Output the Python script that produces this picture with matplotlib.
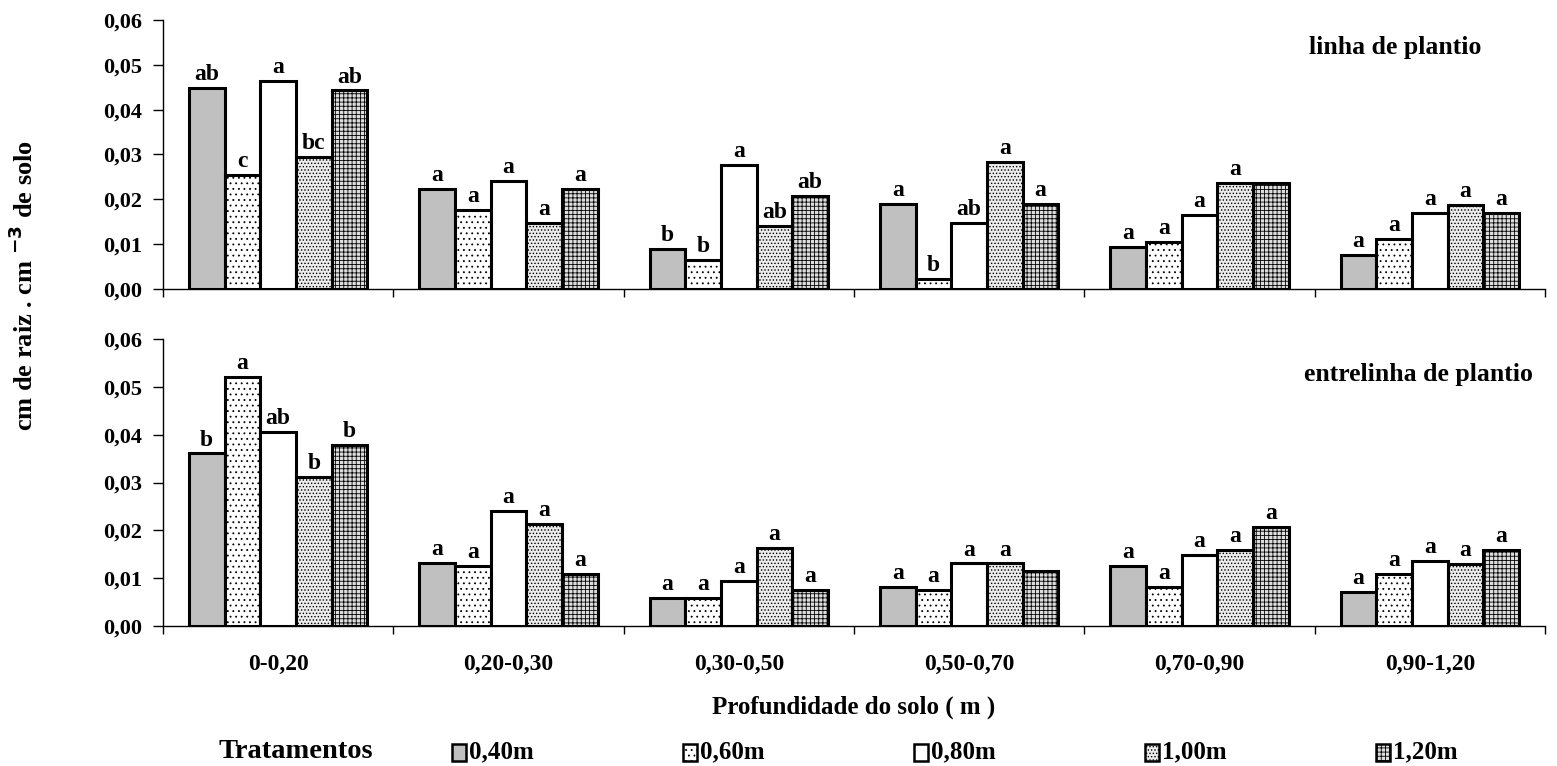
import matplotlib
matplotlib.use("Agg")
import matplotlib.pyplot as plt
from matplotlib.patches import Rectangle
from matplotlib.ticker import FuncFormatter
import numpy as np

plt.rcParams['font.family'] = ['Liberation Serif', 'DejaVu Serif']
plt.rcParams['font.weight'] = 'bold'
plt.rcParams['mathtext.default'] = 'bf'
plt.rcParams['hatch.linewidth'] = 0.6

# depth classes (x axis)
profundidades = ['0-0,20', '0,20-0,30', '0,30-0,50', '0,50-0,70', '0,70-0,90', '0,90-1,20']
tratamentos = ['0,40m', '0,60m', '0,80m', '1,00m', '1,20m']

# linha de plantio: one list per treatment, values per depth
linha_040 = [0.0449, 0.0224, 0.0089, 0.0189, 0.0094, 0.0076]
linha_060 = [0.0255, 0.0176, 0.0065, 0.0023, 0.0105, 0.0112]
linha_080 = [0.0465, 0.0241, 0.0277, 0.0147, 0.0165, 0.0170]
linha_100 = [0.0295, 0.0147, 0.0141, 0.0283, 0.0237, 0.0188]
linha_120 = [0.0443, 0.0224, 0.0207, 0.0189, 0.0237, 0.0170]

# entrelinha de plantio
entre_040 = [0.0361, 0.0132, 0.0059, 0.0082, 0.0126, 0.0071]
entre_060 = [0.0521, 0.0126, 0.0059, 0.0076, 0.0081, 0.0109]
entre_080 = [0.0405, 0.0241, 0.0094, 0.0131, 0.0148, 0.0136]
entre_100 = [0.0312, 0.0213, 0.0164, 0.0131, 0.0159, 0.0130]
entre_120 = [0.0378, 0.0109, 0.0076, 0.0114, 0.0207, 0.0159]

# significance letters (per treatment, per depth)
linha_letras = [
    ['ab', 'a', 'b', 'a', 'a', 'a'],
    ['c', 'a', 'b', 'b', 'a', 'a'],
    ['a', 'a', 'a', 'ab', 'a', 'a'],
    ['bc', 'a', 'ab', 'a', 'a', 'a'],
    ['ab', 'a', 'ab', 'a', '', 'a'],
]
entre_letras = [
    ['b', 'a', 'a', 'a', 'a', 'a'],
    ['a', 'a', 'a', 'a', 'a', 'a'],
    ['ab', 'a', 'a', 'a', 'a', 'a'],
    ['b', 'a', 'a', 'a', 'a', 'a'],
    ['b', 'a', 'a', '', 'a', 'a'],
]

# bar styles: (facecolor, hatch)
estilos = [('#c0c0c0', None), ('white', '...'), ('white', None),
           ('#ececec', '.....'), ('#dddddd', '++++')]

fig = plt.figure(figsize=(15.57, 7.66), dpi=100)
ax1 = fig.add_axes([163/1557, 1-289/766, 1382/1557, 269/766])
ax2 = fig.add_axes([163/1557, 1-626/766, 1382/1557, 287/766])

x = np.arange(len(profundidades))
w = 0.155

def painel(ax, series, letras, titulo, tx, ty, show_labels):
    for k, vals in enumerate(series):
        fc, h = estilos[k]
        pos = x + (k - 2) * w
        ax.bar(pos, vals, width=w, color=fc, edgecolor='black', linewidth=2.2,
               hatch=h, zorder=3)
        for xi, v, l in zip(pos, vals, letras[k]):
            if l:
                ax.annotate(l, (xi, v), xytext=(0, 2), textcoords='offset points',
                            ha='center', va='bottom', fontsize=17, fontweight='bold')
    ax.set_xlim(-0.5, len(profundidades) - 0.5)
    ax.set_ylim(0, 0.06)
    ax.set_yticks(np.arange(0, 0.061, 0.01))
    ax.yaxis.set_major_formatter(FuncFormatter(lambda v, p: ('%.2f' % v).replace('.', ',')))
    ax.set_xticks(np.arange(-0.5, len(profundidades), 1.0))
    ax.set_xticklabels([])
    ax.set_xticks(x, minor=True)
    if show_labels:
        ax.set_xticklabels(profundidades, minor=True)
    else:
        ax.set_xticklabels([''] * len(profundidades), minor=True)
    ax.tick_params(axis='x', which='major', direction='out', length=6, width=1)
    ax.tick_params(axis='x', which='minor', length=0, pad=20, labelsize=17)
    ax.tick_params(axis='y', direction='out', length=7, width=1, labelsize=16, pad=8)
    for s in ['top', 'right']:
        ax.spines[s].set_visible(False)
    ax.spines['left'].set_linewidth(1)
    ax.spines['bottom'].set_linewidth(1)
    for lab in ax.get_yticklabels() + ax.get_xticklabels(minor=True):
        lab.set_fontweight('bold')
    ax.text(tx, ty, titulo, transform=ax.transAxes, ha='center', va='center',
            fontsize=18.5, fontweight='bold')

painel(ax1, [linha_040, linha_060, linha_080, linha_100, linha_120], linha_letras,
       'linha de plantio', (1395-163)/1382, (289-48)/269, False)
painel(ax2, [entre_040, entre_060, entre_080, entre_100, entre_120], entre_letras,
       'entrelinha de plantio', (1418-163)/1382, (626-375)/287, True)

fig.text(24/1557, 1-285/766, r'cm de raiz . cm $^{-3}$ de solo', rotation=90,
         ha='center', va='center', fontsize=19, fontweight='bold')
fig.text(854/1557, 1-707/766, 'Profundidade do solo ( m )', ha='center', va='center',
         fontsize=18, fontweight='bold')

# legend row
fig.text(296/1557, 1-752/766, 'Tratamentos', ha='center', va='center',
         fontsize=20.5, fontweight='bold')
for k, nome in enumerate(tratamentos):
    fc, h = estilos[k]
    x0 = (452 + k * 231) / 1557
    fig.add_artist(Rectangle((x0, 1-761/766), 14/1557, 17/766, transform=fig.transFigure,
                             facecolor=fc, edgecolor='black', linewidth=1.8, hatch=h))
    fig.text(x0 + 17/1557, 1-752/766, nome, ha='left', va='center',
             fontsize=18, fontweight='bold')

fig.savefig('out.png', dpi=100)
